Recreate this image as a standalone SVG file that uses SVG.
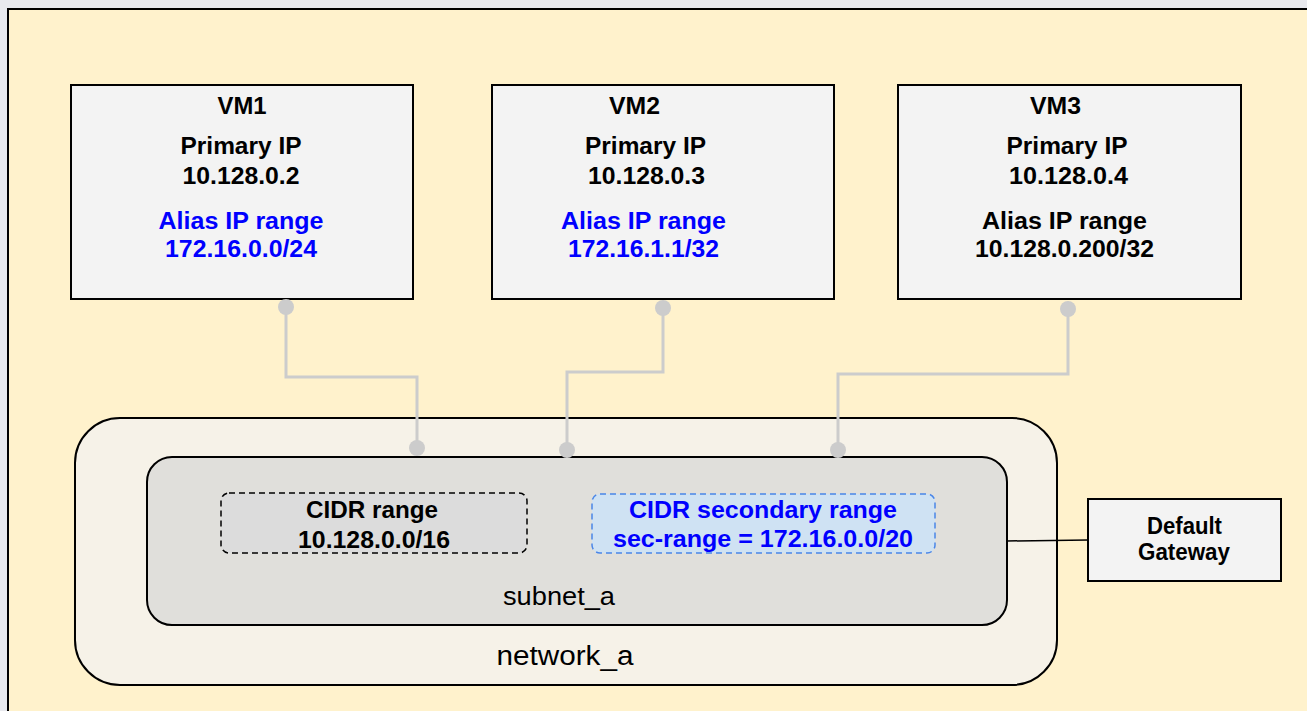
<svg xmlns="http://www.w3.org/2000/svg" width="1307" height="711" viewBox="0 0 1307 711">
<style>
.vm{fill:#f3f3f3;stroke:#000;stroke-width:2}
.t{font-family:"Liberation Sans",Arial,sans-serif;font-size:23.5px;font-weight:bold;text-anchor:middle;fill:#000}
.b{fill:#0000ff}
.n{font-family:"Liberation Sans",Arial,sans-serif;text-anchor:middle;fill:#000}
.c{fill:none;stroke:#cccccc;stroke-width:3}
.d{fill:#cccccc}
</style>
<rect x="0" y="0" width="1307" height="711" fill="#e8e9ee"/>
<rect id="bg" x="8" y="9" width="1320" height="720" fill="#fff2cc" stroke="#000" stroke-width="2"/>
<g id="network_a">
<rect x="75" y="418" width="982" height="267" rx="45" fill="#f6f2e8" stroke="#000" stroke-width="2"/>
<text class="n" x="565" y="665" font-size="27" textLength="137" lengthAdjust="spacingAndGlyphs">network_a</text>
</g>
<g id="subnet_a">
<rect x="147" y="457" width="860" height="168" rx="25" fill="#e0dfdb" stroke="#000" stroke-width="2"/>
<text class="n" x="559" y="605" font-size="25" textLength="112" lengthAdjust="spacingAndGlyphs">subnet_a</text>
</g>
<g id="cidr">
<rect x="221" y="493" width="306" height="60" rx="8" fill="#dcdcdc" stroke="#000" stroke-width="1.5" stroke-dasharray="6,4"/>
<text class="t" x="372" y="518" textLength="132" lengthAdjust="spacingAndGlyphs">CIDR range</text>
<text class="t" x="374" y="548" textLength="152" lengthAdjust="spacingAndGlyphs">10.128.0.0/16</text>
</g>
<g id="cidr2">
<rect x="592" y="494" width="343" height="59" rx="8" fill="#cfe2f3" stroke="#4a86e8" stroke-width="1.5" stroke-dasharray="6,4"/>
<text class="t b" x="763" y="518" textLength="268" lengthAdjust="spacingAndGlyphs">CIDR secondary range</text>
<text class="t b" x="763" y="547" textLength="300" lengthAdjust="spacingAndGlyphs">sec-range = 172.16.0.0/20</text>
</g>
<g id="vm1">
<rect class="vm" x="71" y="85" width="342" height="214"/>
<text class="t" x="242" y="114" textLength="49" lengthAdjust="spacingAndGlyphs">VM1</text>
<text class="t" x="241" y="153.5" textLength="121" lengthAdjust="spacingAndGlyphs">Primary IP</text>
<text class="t" x="241" y="183.5" textLength="117" lengthAdjust="spacingAndGlyphs">10.128.0.2</text>
<text class="t b" x="241" y="228.5" textLength="165" lengthAdjust="spacingAndGlyphs">Alias IP range</text>
<text class="t b" x="241" y="257" textLength="152" lengthAdjust="spacingAndGlyphs">172.16.0.0/24</text>
</g>
<g id="vm2">
<rect class="vm" x="492" y="85" width="342" height="214"/>
<text class="t" x="634.5" y="114" textLength="51" lengthAdjust="spacingAndGlyphs">VM2</text>
<text class="t" x="645.5" y="153.5" textLength="121" lengthAdjust="spacingAndGlyphs">Primary IP</text>
<text class="t" x="646.5" y="183.5" textLength="117" lengthAdjust="spacingAndGlyphs">10.128.0.3</text>
<text class="t b" x="643.5" y="228.5" textLength="165" lengthAdjust="spacingAndGlyphs">Alias IP range</text>
<text class="t b" x="643.5" y="257" textLength="151" lengthAdjust="spacingAndGlyphs">172.16.1.1/32</text>
</g>
<g id="vm3">
<rect class="vm" x="898" y="85" width="343" height="214"/>
<text class="t" x="1055.5" y="114" textLength="51" lengthAdjust="spacingAndGlyphs">VM3</text>
<text class="t" x="1067" y="153.5" textLength="121" lengthAdjust="spacingAndGlyphs">Primary IP</text>
<text class="t" x="1068.5" y="183.5" textLength="119" lengthAdjust="spacingAndGlyphs">10.128.0.4</text>
<text class="t" x="1064.5" y="228.5" textLength="165" lengthAdjust="spacingAndGlyphs">Alias IP range</text>
<text class="t" x="1064.5" y="257" textLength="179" lengthAdjust="spacingAndGlyphs">10.128.0.200/32</text>
</g>
<g id="gateway">
<rect x="1088" y="499" width="193" height="82" fill="#f3f3f3" stroke="#000" stroke-width="2"/>
<text class="t" x="1184.5" y="534" font-size="20.5" textLength="75" lengthAdjust="spacingAndGlyphs">Default</text>
<text class="t" x="1184" y="560" font-size="20.5" textLength="92" lengthAdjust="spacingAndGlyphs">Gateway</text>
</g>
<g id="connectors">
<path class="c" d="M286 307 V377 H417 V448"/>
<path class="c" d="M663 308 V372 H567 V450"/>
<path class="c" d="M1068 309 V374 H838 V450"/>
<circle class="d" cx="286" cy="307" r="8"/>
<circle class="d" cx="417" cy="448" r="8"/>
<circle class="d" cx="663" cy="308" r="8"/>
<circle class="d" cx="567" cy="450" r="8"/>
<circle class="d" cx="1068" cy="309" r="8"/>
<circle class="d" cx="838" cy="450" r="8"/>
<line x1="1007" y1="541" x2="1088" y2="540" stroke="#000" stroke-width="1.5"/>
</g>
</svg>
